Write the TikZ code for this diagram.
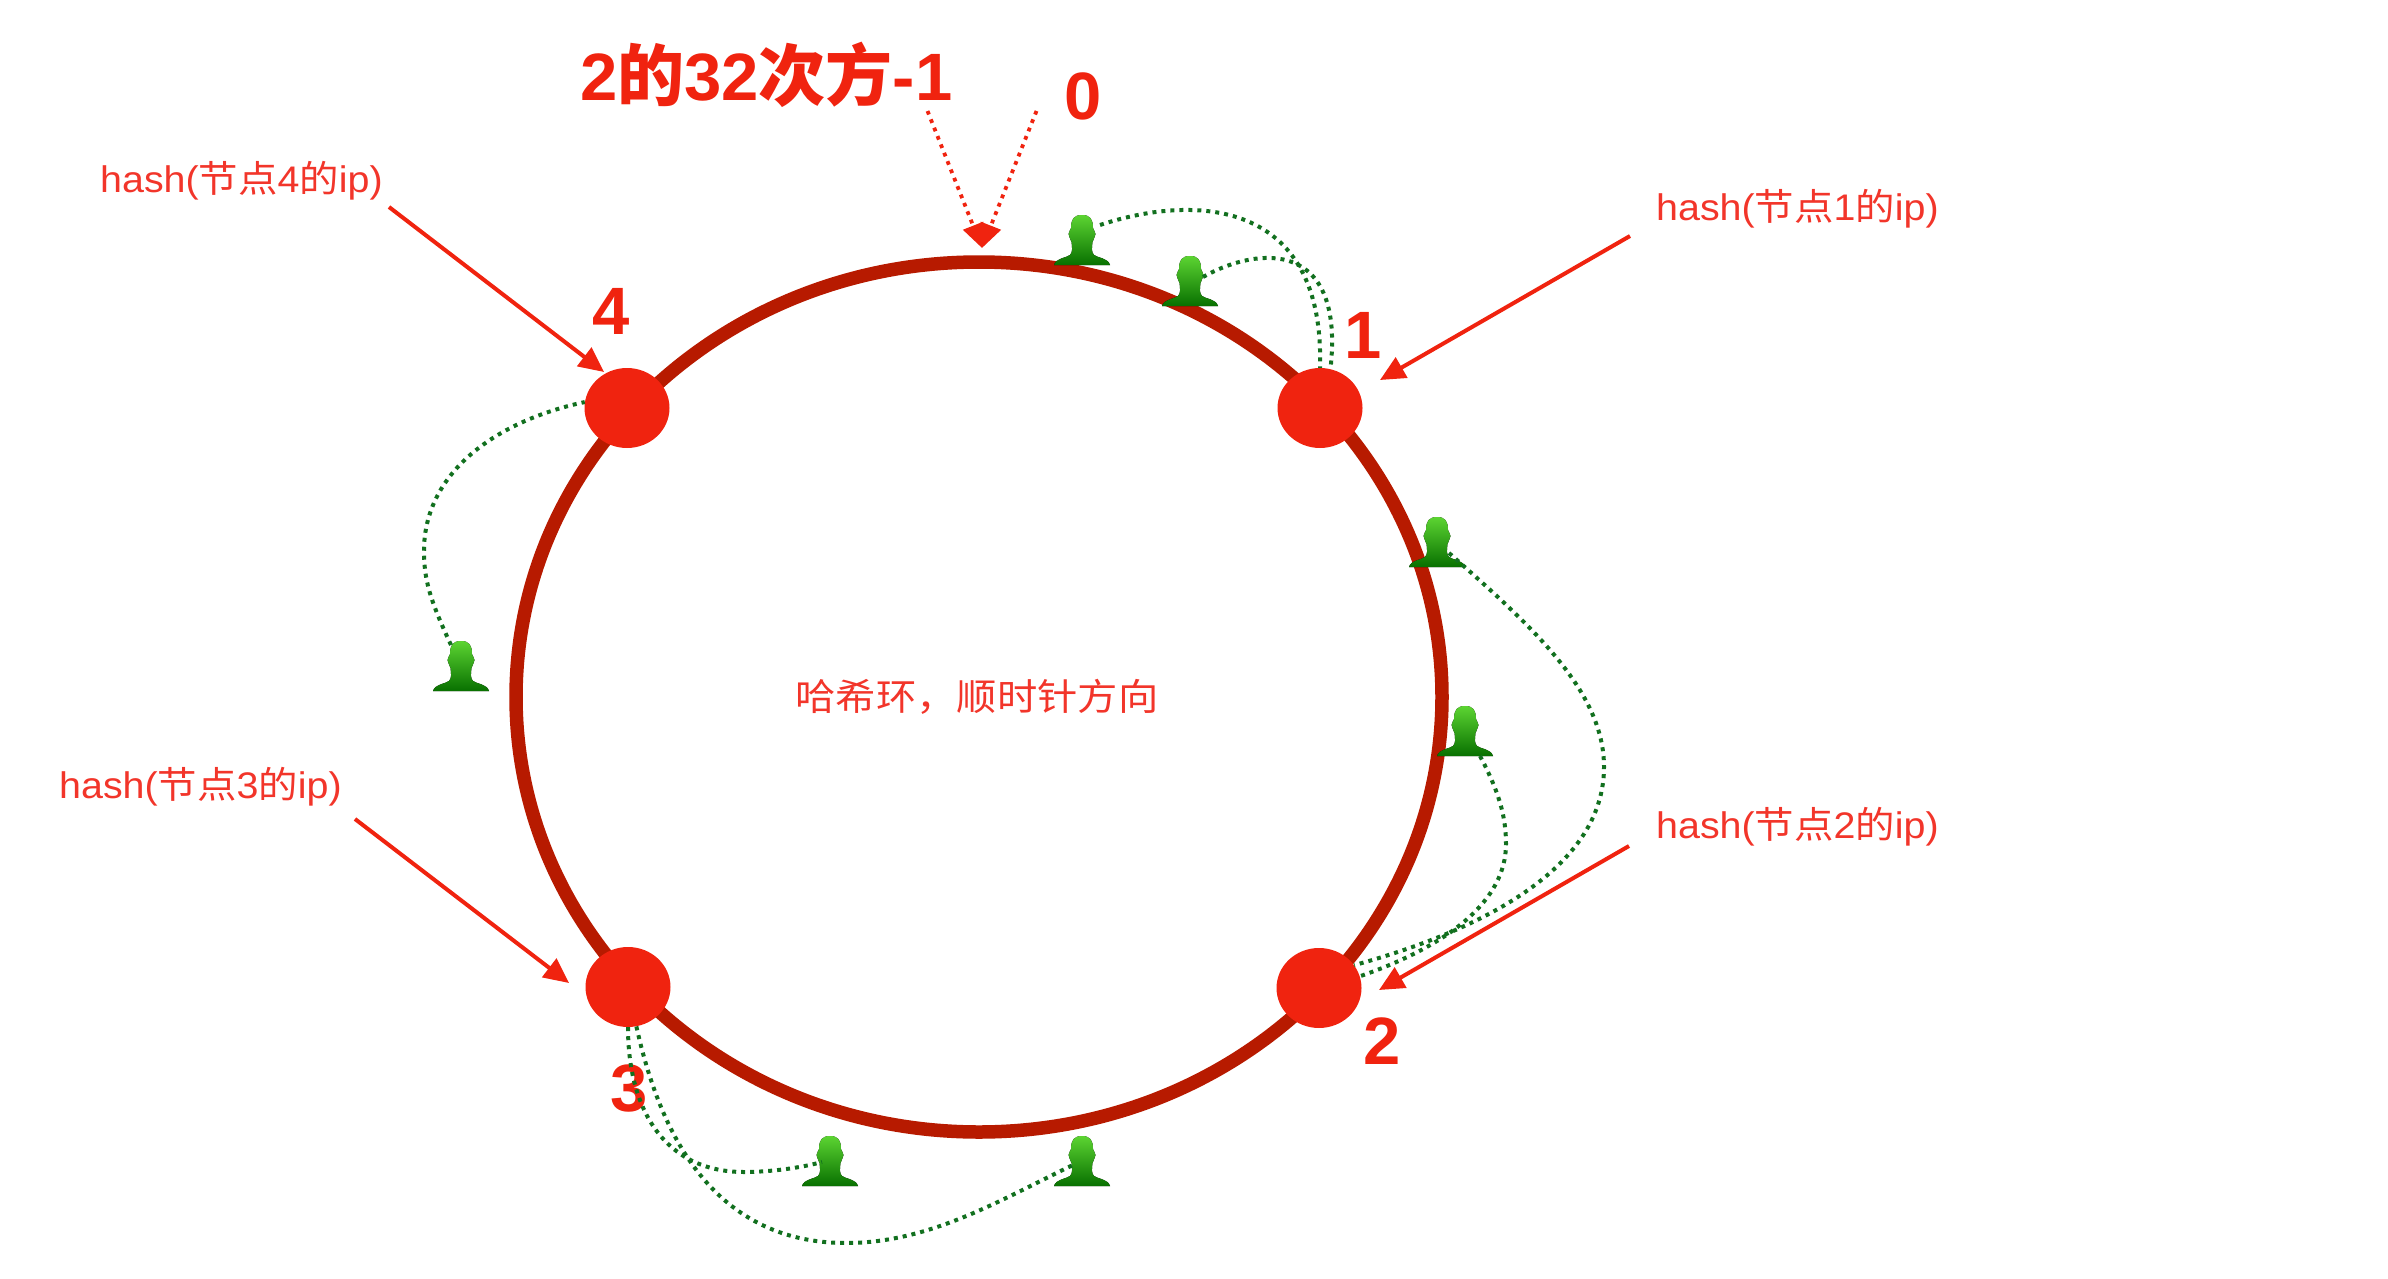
\documentclass[tikz,border=0pt]{standalone}
\usepackage{fontspec}
\usepackage{graphicx}
\setmainfont{Liberation Sans}
\newfontfamily\cjk{Noto Sans CJK SC}
\usetikzlibrary{arrows.meta,shapes.geometric}
\definecolor{ringred}{HTML}{B71A00}
\definecolor{nodered}{HTML}{F0230F}
\definecolor{textred}{HTML}{F2352A}
\definecolor{dotgreen}{HTML}{12701F}
\newcommand{\lbl}[1]{\scalebox{1.065}[1]{\fontsize{37}{40}\selectfont hash(\cjk 节点\rmfamily #1\cjk 的\rmfamily ip)}}
\tikzset{
  x=1pt,y=1pt,
  ring/.style={draw=ringred,line width=13.5pt},
  hub/.style={ellipse,fill=nodered,inner sep=0pt,minimum width=85pt,minimum height=80pt},
  hashlabel/.style={anchor=base west,inner sep=0pt,text=textred},
  bignum/.style={inner sep=0pt,text=nodered,font=\fontsize{67}{70}\selectfont\bfseries},
  pointer/.style={draw=nodered,line width=4pt,-{Triangle[length=25pt,width=23pt]}},
  dotpointer/.style={draw=nodered,line width=3.8pt,dash pattern=on 3.8pt off 5.2pt,-{Triangle[length=24pt,width=21pt]}},
  link/.style={draw=dotgreen,line width=4pt,dash pattern=on 4pt off 5pt},
  person/.pic={
    \fill[top color=personTop,bottom color=personBot]
      (0,0) .. controls (8,0) and (11,-4) .. (11,-13)
      .. controls (11,-15) and (13.5,-16) .. (13.5,-19)
      .. controls (13.5,-22) and (11,-24) .. (10.5,-27)
      .. controls (10,-32) and (9,-37) .. (12,-40)
      .. controls (16,-43) and (26,-43) .. (28,-50)
      -- (-28,-50)
      .. controls (-26,-43) and (-16,-43) .. (-12,-40)
      .. controls (-9,-37) and (-10,-32) .. (-10.5,-27)
      .. controls (-11,-24) and (-13.5,-22) .. (-13.5,-19)
      .. controls (-13.5,-16) and (-11,-15) .. (-11,-13)
      .. controls (-11,-4) and (-8,0) .. (0,0) -- cycle;
  }
}
\definecolor{personTop}{HTML}{5CD432}
\definecolor{personBot}{HTML}{087000}
\begin{document}
\begin{tikzpicture}
\useasboundingbox (0,0) rectangle (2388,-1279);
% ring
\draw[ring] (979,-697) ellipse [x radius=463pt,y radius=435pt];
% hubs
\node[hub] (n1) at (1320,-408) {};
\node[hub] (n2) at (1319,-988) {};
\node[hub] (n3) at (628,-987) {};
\node[hub] (n4) at (627,-408) {};
% texts
\node[bignum,anchor=base west,font=\fontsize{67}{70}\selectfont\bfseries] (top) at (580,-101) {2{\cjk\bfseries 的}32{\cjk\bfseries 次方}-1};
\node[bignum] (zero) at (1083,-96) {0};
\node[bignum] (one) at (1363,-335) {1};
\node[bignum] (two) at (1382,-1041) {2};
\node[bignum] (three) at (629,-1088) {3};
\node[bignum] (four) at (611,-311) {4};
\node[hashlabel] (h1) at (1656,-220) {\lbl{1}};
\node[hashlabel] (h2) at (1656,-838) {\lbl{2}};
\node[hashlabel] (h3) at (59,-798) {\lbl{3}};
\node[hashlabel] (h4) at (100,-192) {\lbl{4}};
\node[inner sep=0pt,text=textred] (mid) at (977,-697) {\scalebox{1.09}[1]{\fontsize{37}{40}\selectfont\cjk 哈希环，顺时针方向}};
% free ends
\coordinate (a1s) at (1630,-236); \coordinate (a1e) at (1380,-380);
\coordinate (a2s) at (1629,-846); \coordinate (a2e) at (1379,-990);
\coordinate (a3s) at (355,-819);  \coordinate (a3e) at (569,-983);
\coordinate (a4s) at (389,-207);  \coordinate (a4e) at (604,-372);
\coordinate (tick) at (982,-248);
\coordinate (ds) at (927.5,-111); \coordinate (de) at (1036.5,-111);
% pointers
\draw[pointer] (a1s) -- (a1e);
\draw[pointer] (a2s) -- (a2e);
\draw[pointer] (a3s) -- (a3e);
\draw[pointer] (a4s) -- (a4e);
\draw[dotpointer] (ds) -- (tick);
\draw[dotpointer] (de) -- (tick);
% people
\coordinate (p1) at (1082,-215);
\coordinate (p2) at (1190,-256);
\coordinate (p3) at (1437,-517);
\coordinate (p4) at (1465,-706);
\coordinate (p5) at (1082,-1136);
\coordinate (p6) at (830,-1136);
\coordinate (p7) at (461,-641);
\foreach \p in {p1,p2,p3,p4,p5,p6,p7} \pic at (\p) {person};
% links
\coordinate (q1) at (1100,-225);
\coordinate (q2) at (1203,-277);
\coordinate (q3) at (1449,-553);
\coordinate (q4) at (1480,-756);
\coordinate (q5) at (1073,-1165);
\coordinate (q6) at (822,-1162);
\coordinate (q7) at (451,-645);
\draw[link] (q1) .. controls (1190,-195) and (1325,-195) .. (n1.north);
\draw[link] (q2) .. controls (1260,-245) and (1345,-240) .. (n1.75);
\draw[link] (q3) .. controls (1530,-625) and (1604,-690) .. (1604,-767) .. controls (1604,-860) and (1500,-925) .. (n2.33);
\draw[link] (q4) .. controls (1498,-790) and (1506,-815) .. (1506,-844) .. controls (1506,-900) and (1450,-945) .. (n2.16);
\draw[link] (n3.south) .. controls (628,-1110) and (665,-1172) .. (744,-1172) .. controls (770,-1172) and (800,-1168) .. (q6);
\draw[link] (n3.-78) .. controls (655,-1110) and (700,-1243) .. (846,-1243) .. controls (930,-1243) and (1000,-1200) .. (q5);
\draw[link] (q7) .. controls (430,-600) and (424,-580) .. (424,-551) .. controls (424,-470) and (500,-420) .. (n4.172);
\end{tikzpicture}
\end{document}
